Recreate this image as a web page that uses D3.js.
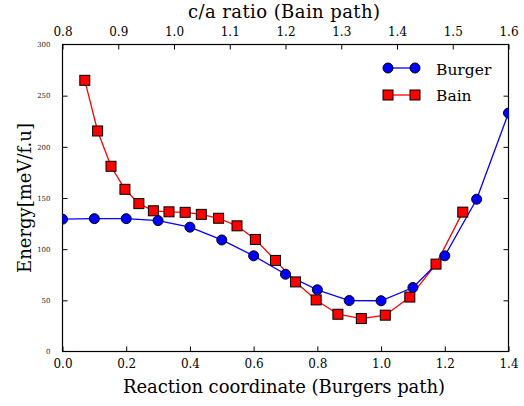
<!DOCTYPE html>
<html><head><meta charset="utf-8">
<script src="https://cdn.jsdelivr.net/npm/d3@7"></script>
<style>body{margin:0;background:#fff;} svg{display:block;} text{font-family:"DejaVu Serif",serif;}</style>
</head><body><svg id="c" width="524" height="406"></svg>
<script>
const burgerX = [0, 0.1, 0.2, 0.3, 0.4, 0.5, 0.6, 0.7, 0.8, 0.9, 1.0, 1.1, 1.2, 1.3, 1.4];
const burgerE = [129.3, 129.8, 129.8, 127.9, 121.5, 109, 93.5, 75.5, 60.3, 49.8, 49.6, 62.5, 93.5, 148.8, 233];
const bainCA = [0.840, 0.863, 0.887, 0.912, 0.937, 0.963, 0.991, 1.020, 1.049, 1.080, 1.113, 1.146, 1.182, 1.218, 1.255, 1.294, 1.336, 1.379, 1.423, 1.470, 1.518];
const bainE = [265, 215.5, 181, 158.5, 144.5, 137.5, 136.5, 136, 134, 130.2, 122.8, 109.5, 89, 68, 50.4, 36.4, 32.2, 35.5, 53.2, 85.4, 136.2];
const bottomTicks = [0.0, 0.2, 0.4, 0.6, 0.8, 1.0, 1.2, 1.4];
const topTicks = [0.8, 0.9, 1.0, 1.1, 1.2, 1.3, 1.4, 1.5, 1.6];
const yTicks = [0, 50, 100, 150, 200, 250, 300];

const FONT = '"DejaVu Serif",serif';
const svg = d3.select("#c");
const L = 62.5, R = 508.5, T = 44.5, B = 351.5;
const x = d3.scaleLinear().domain([0, 1.4]).range([L, R]);
const x2 = d3.scaleLinear().domain([0.8, 1.6]).range([L, R]);
const y = d3.scaleLinear().domain([0, 300]).range([B, T]);

const gB = svg.append("g").attr("transform", `translate(0,${B})`)
  .call(d3.axisBottom(x).tickValues(bottomTicks).tickFormat(d3.format(".1f")).tickSizeInner(-5).tickSizeOuter(0).tickPadding(8));
const gT = svg.append("g").attr("transform", `translate(0,${T})`)
  .call(d3.axisTop(x2).tickValues(topTicks).tickFormat(d3.format(".1f")).tickSizeInner(-5).tickSizeOuter(0).tickPadding(8.5));
const gL = svg.append("g").attr("transform", `translate(${L},0)`)
  .call(d3.axisLeft(y).tickValues(yTicks).tickSizeInner(-5).tickSizeOuter(0).tickPadding(12));
const gR = svg.append("g").attr("transform", `translate(${R},0)`)
  .call(d3.axisRight(y).tickValues(yTicks).tickSizeInner(-5).tickSizeOuter(0).tickFormat(""));
[gB, gT, gL, gR].forEach(g => {
  g.attr("font-family", null);
  g.select(".domain").remove();
  g.selectAll(".tick line").attr("stroke", "#000").attr("stroke-width", 1);
  g.selectAll("text").attr("fill", "#000").style("font-family", FONT);
});
gB.selectAll("text").style("font-size", "12px");
gT.selectAll("text").style("font-size", "12px");
gL.selectAll("text").style("font-size", "7px").attr("fill", "#222");
gL.selectAll(".tick").filter(d => d === 0 || d === 300).select("line").remove();
gR.selectAll(".tick").filter(d => d === 0 || d === 300).select("line").remove();

svg.append("rect").attr("x", L).attr("y", T).attr("width", R - L).attr("height", B - T)
  .attr("fill", "none").attr("stroke", "#000").attr("stroke-width", 1.2);

const bur = burgerX.map((v, i) => [x(v), y(burgerE[i])]);
const bain = bainCA.map((v, i) => [x2(v), y(bainE[i])]);
const line = d3.line();
svg.append("path").attr("d", line(bain)).attr("fill", "none").attr("stroke", "#ff0000").attr("stroke-width", 1.3);
svg.append("path").attr("d", line(bur)).attr("fill", "none").attr("stroke", "#0000ff").attr("stroke-width", 1.3);

svg.append("clipPath").attr("id", "pc").append("rect").attr("x", L).attr("y", T).attr("width", R - L).attr("height", B - T);
const marks = svg.append("g").attr("clip-path", "url(#pc)");
marks.selectAll(".sq").data(bain).join("rect").attr("x", d => d[0] - 5).attr("y", d => d[1] - 5)
  .attr("width", 10).attr("height", 10).attr("fill", "#ff0000").attr("stroke", "#000").attr("stroke-width", 1);
marks.selectAll(".ci").data(bur).join("circle").attr("cx", d => d[0]).attr("cy", d => d[1]).attr("r", 5)
  .attr("fill", "#0000ff").attr("stroke", "#000").attr("stroke-width", 1);

const lg = svg.append("g");
lg.append("line").attr("x1", 388).attr("x2", 415).attr("y1", 68).attr("y2", 68).attr("stroke", "#0000ff").attr("stroke-width", 1.3);
lg.selectAll(".lc").data([388, 415]).join("circle").attr("cx", d => d).attr("cy", 68).attr("r", 5).attr("fill", "#0000ff").attr("stroke", "#000");
lg.append("line").attr("x1", 388).attr("x2", 415).attr("y1", 95).attr("y2", 95).attr("stroke", "#ff0000").attr("stroke-width", 1.3);
lg.selectAll(".ls").data([388, 415]).join("rect").attr("x", d => d - 5).attr("y", 90).attr("width", 10).attr("height", 10).attr("fill", "#ff0000").attr("stroke", "#000");
lg.append("text").attr("x", 436).attr("y", 75).style("font-size", "15.5px").text("Burger");
lg.append("text").attr("x", 436).attr("y", 101).style("font-size", "15.5px").text("Bain");

svg.append("text").attr("x", 284).attr("y", 392.5).attr("text-anchor", "middle").style("font-size", "18px")
  .attr("textLength", 322).attr("lengthAdjust", "spacing").text("Reaction coordinate (Burgers path)");
svg.append("text").attr("x", 284).attr("y", 17.5).attr("text-anchor", "middle").style("font-size", "18px")
  .attr("textLength", 192).attr("lengthAdjust", "spacing").text("c/a ratio (Bain path)");
svg.append("text").attr("transform", `translate(31,198) rotate(-90)`).attr("text-anchor", "middle").style("font-size", "18px")
  .attr("textLength", 150).attr("lengthAdjust", "spacing").text("Energy[meV/f.u]");
</script></body></html>
